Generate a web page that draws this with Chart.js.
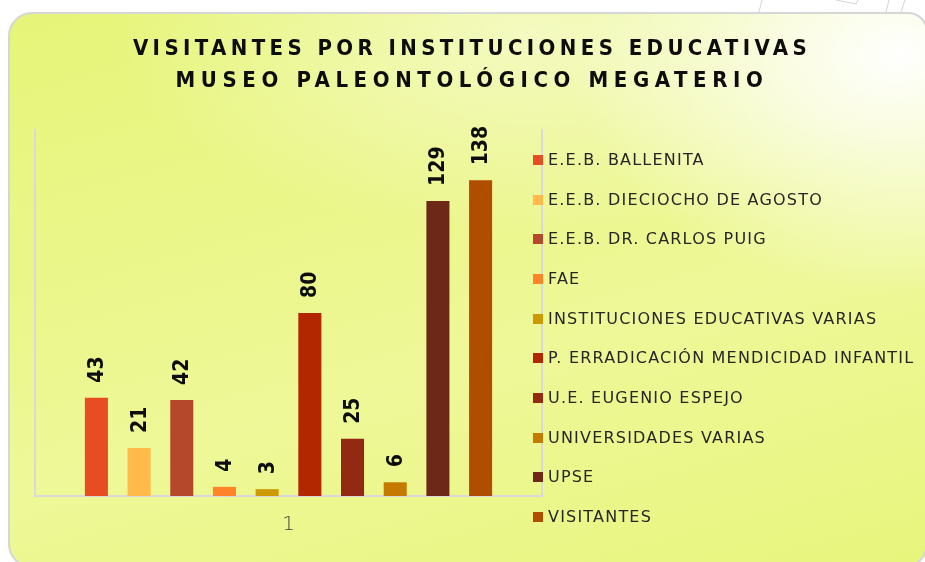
<!DOCTYPE html>
<html>
<head>
<meta charset="utf-8">
<script src="https://cdn.jsdelivr.net/npm/chart.js@4/dist/chart.umd.min.js"></script>
<style>
  html, body { margin:0; padding:0; background:#ffffff; }
  #wrap { position:relative; width:925px; height:562px; overflow:hidden; background:#ffffff; }
  #deco { position:absolute; left:0; top:0; }
  #panel { position:absolute; left:8px; top:12px; width:920px; height:556px; box-sizing:border-box;
    border:2px solid #d6d6d6; border-radius:24px 20px 24px 24px;
    background:
      radial-gradient(ellipse 330px 240px at 890px 40px, rgba(255,255,255,1) 0%, rgba(255,255,255,0.7) 35%, rgba(255,255,255,0) 100%),
      radial-gradient(ellipse 420px 200px at 520px 20px, rgba(255,255,255,0.5) 0%, rgba(255,255,255,0) 100%),
      linear-gradient(165deg, #e6f579 0%, #ebf68a 35%, #eef898 60%, #e8f57c 100%);
  }
  canvas#c { position:absolute; left:0; top:0; }
  .title { position:absolute; left:0; width:944px; text-align:center; font-family:"DejaVu Sans Condensed","DejaVu Sans",sans-serif;
    font-weight:bold; font-size:22px; color:#0d0d0d; white-space:nowrap; }
  #legend { position:absolute; left:533px; top:0; }
  .li { position:absolute; left:0; white-space:nowrap; font-family:"DejaVu Sans",sans-serif; font-size:16px; letter-spacing:1.2px; color:#262626; }
  .li span.box { position:absolute; left:0; top:4px; width:10px; height:10px; }
  .li span.t { position:absolute; left:15px; top:-1px; }
</style>
</head>
<body>
<div id="wrap">
  <svg id="deco" width="925" height="14">
    <g stroke="#d4d4d4" stroke-width="1" fill="none">
      <line x1="762" y1="0" x2="759" y2="12"/>
      <line x1="836" y1="0" x2="856" y2="4"/>
      <line x1="856" y1="4" x2="858" y2="0"/>
      <line x1="889" y1="0" x2="886" y2="12"/>
      <line x1="905" y1="0" x2="901" y2="12"/>
    </g>
  </svg>
  <div id="panel"></div>
  <canvas id="c" width="925" height="562"></canvas>
  <div class="title" id="t1" style="top:35px; letter-spacing:4.4px;"></div>
  <div class="title" id="t2" style="top:67px; letter-spacing:5.6px;"></div>
  <div id="legend"></div>
</div>
<script>
const titleLines = ['VISITANTES POR INSTITUCIONES EDUCATIVAS', 'MUSEO PALEONTOLÓGICO MEGATERIO'];
const categories = ['1'];
const seriesNames = [
  'E.E.B. BALLENITA',
  'E.E.B. DIECIOCHO DE AGOSTO',
  'E.E.B. DR. CARLOS PUIG',
  'FAE',
  'INSTITUCIONES EDUCATIVAS VARIAS',
  'P. ERRADICACIÓN MENDICIDAD INFANTIL',
  'U.E. EUGENIO ESPEJO',
  'UNIVERSIDADES VARIAS',
  'UPSE',
  'VISITANTES'
];
const seriesValues = [43, 21, 42, 4, 3, 80, 25, 6, 129, 138];
const seriesColors = ['#E84C22', '#FFBA4A', '#B5472A', '#FF8429', '#CC9900', '#B22600', '#922912', '#C47A00', '#6D2818', '#B04E00'];

document.getElementById('t1').textContent = titleLines[0];
document.getElementById('t2').textContent = titleLines[1];

const legendFirstRow = 160, legendRowStep = 39.67;
const legend = document.getElementById('legend');
seriesNames.forEach((n, i) => {
  const row = document.createElement('div');
  row.className = 'li';
  row.style.top = (legendFirstRow + i * legendRowStep - 9) + 'px';
  const b = document.createElement('span'); b.className = 'box'; b.style.background = seriesColors[i];
  const t = document.createElement('span'); t.className = 't'; t.textContent = n;
  row.appendChild(b); row.appendChild(t);
  legend.appendChild(row);
});

const framePlugin = {
  id: 'frame',
  beforeDatasetsDraw(chart) {
    const a = chart.chartArea, ctx = chart.ctx;
    ctx.save();
    ctx.strokeStyle = '#d9d9dc';
    ctx.lineWidth = 2;
    ctx.beginPath();
    ctx.moveTo(a.left, a.top - 1);
    ctx.lineTo(a.left, a.bottom);
    ctx.lineTo(a.right, a.bottom);
    ctx.lineTo(a.right, a.top - 1);
    ctx.stroke();
    ctx.restore();
  }
};

const valueLabels = {
  id: 'valueLabels',
  afterDatasetsDraw(chart) {
    const ctx = chart.ctx;
    ctx.save();
    ctx.fillStyle = '#0d0d0d';
    ctx.font = 'bold 21px "DejaVu Sans Condensed", "DejaVu Sans", sans-serif';
    ctx.textAlign = 'left';
    ctx.textBaseline = 'middle';
    chart.data.datasets.forEach((ds, i) => {
      const meta = chart.getDatasetMeta(i);
      meta.data.forEach((bar, j) => {
        ctx.save();
        ctx.translate(bar.x, bar.y - 15);
        ctx.rotate(-Math.PI / 2);
        ctx.fillText(String(ds.data[j]), 0, 1);
        ctx.restore();
      });
    });
    ctx.restore();
  }
};

new Chart(document.getElementById('c'), {
  type: 'bar',
  data: {
    labels: categories,
    datasets: seriesNames.map((n, i) => ({
      label: n,
      data: [seriesValues[i]],
      backgroundColor: seriesColors[i],
      borderWidth: 0,
      barPercentage: 0.54,
      categoryPercentage: 0.842
    }))
  },
  options: {
    responsive: false,
    animation: false,
    layout: { padding: { left: 35, right: 383, top: 130, bottom: 16 } },
    plugins: { legend: { display: false }, title: { display: false }, tooltip: { enabled: false } },
    scales: {
      x: {
        grid: { display: false },
        border: { display: false },
        ticks: { color: '#404040', font: { family: 'DejaVu Sans', size: 20, weight: '300' }, padding: 9 }
      },
      y: { display: false, min: 0, max: 160 }
    }
  },
  plugins: [framePlugin, valueLabels]
});
</script>
</body>
</html>
